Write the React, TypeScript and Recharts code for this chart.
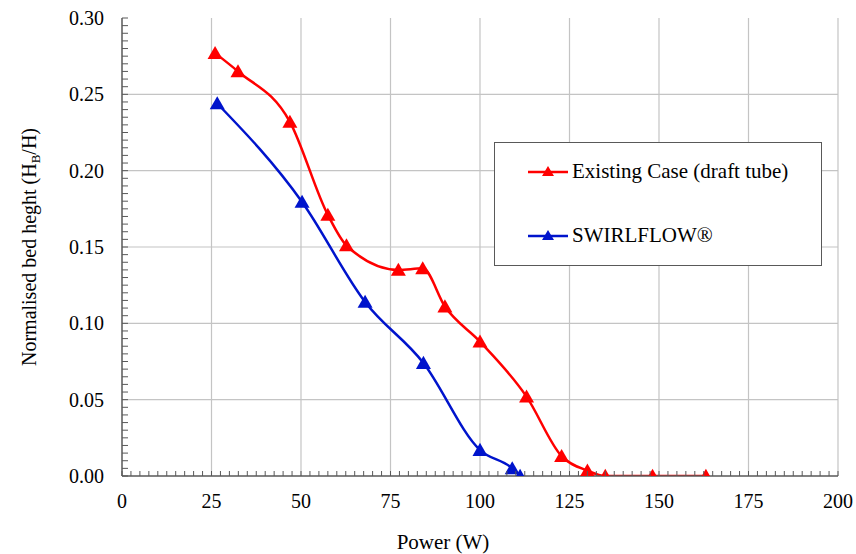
import React from 'react';
import { LineChart, Line, XAxis, YAxis, ReferenceLine, Legend } from 'recharts';

document.body.style.margin = '0';

// Existing Case (draft tube)
const existingPower = [26.0, 32.4, 46.9, 57.5, 62.7, 77.2, 84.0, 90.2, 100.0, 113.0, 122.8, 130.0, 135.0, 148.2, 163.1];
const existingHeight = [0.277, 0.265, 0.232, 0.171, 0.151, 0.135, 0.136, 0.111, 0.088, 0.052, 0.013, 0.0035, 0.0, 0.0, 0.0];

// SWIRLFLOW
const swirlPower = [26.6, 50.3, 67.9, 84.2, 100.0, 109.0, 111.2];
const swirlHeight = [0.244, 0.1795, 0.114, 0.074, 0.017, 0.005, 0.0];

const xMajorTicks = [0, 25, 50, 75, 100, 125, 150, 175, 200];
const yMajorTicks = [0, 0.05, 0.1, 0.15, 0.2, 0.25, 0.3];

const X_MINOR_PER_MAJOR = 10;
const Y_MINOR_PER_MAJOR = 10;

const buildMinor = (major: number[], per: number) => {
  const out: number[] = [];
  for (let i = 0; i < major.length - 1; i++) {
    const step = (major[i + 1] - major[i]) / per;
    for (let j = 0; j < per; j++) out.push(+(major[i] + j * step).toFixed(6));
  }
  out.push(major[major.length - 1]);
  return out;
};

const xTicks = buildMinor(xMajorTicks, X_MINOR_PER_MAJOR);
const yTicks = buildMinor(yMajorTicks, Y_MINOR_PER_MAJOR);

const existingData = existingPower.map((p, i) => ({ power: p, height: existingHeight[i] }));
const swirlData = swirlPower.map((p, i) => ({ power: p, height: swirlHeight[i] }));

const RED = '#ff0000';
const BLUE = '#0014cc';
const AXIS = '#595959';
const GRID = '#c4c4c4';
const FONT = "'Liberation Serif', Tinos, 'Times New Roman', Times, 'DejaVu Serif', serif";

const isMajor = (v: number, list: number[]) => list.some((m) => Math.abs(m - v) < 1e-6);

const XTick: React.FC<any> = ({ x, y, payload }) => {
  const major = isMajor(payload.value, xMajorTicks);
  return (
    <g>
      <line x1={x} y1={y} x2={x} y2={y - 5} stroke={AXIS} strokeWidth={1} />
      {major && (
        <text x={x} y={y + 32} textAnchor="middle" style={{ fontFamily: FONT, fontSize: 20 }} fill="#000">
          {payload.value}
        </text>
      )}
    </g>
  );
};

const YTick: React.FC<any> = ({ x, y, payload }) => {
  const major = isMajor(payload.value, yMajorTicks);
  return (
    <g>
      <line x1={x} y1={y} x2={x + 6} y2={y} stroke={AXIS} strokeWidth={1} />
      {major && (
        <text x={x - 18} y={y + 7} textAnchor="end" style={{ fontFamily: FONT, fontSize: 20 }} fill="#000">
          {payload.value.toFixed(2)}
        </text>
      )}
    </g>
  );
};

const Triangle = (color: string, size = 15) => (props: any) => {
  const { cx, cy, index } = props;
  if (cx == null || cy == null) return <g key={index} />;
  const h = size * 0.87;
  return (
    <path
      key={index}
      d={`M${cx},${cy - h * 0.55} L${cx + size / 2},${cy + h * 0.45} L${cx - size / 2},${cy + h * 0.45} Z`}
      fill={color}
      stroke="none"
    />
  );
};

const LegendBox: React.FC = () => {
  const items = [
    { label: 'Existing Case (draft tube)', color: RED },
    { label: 'SWIRLFLOW®', color: BLUE },
  ];
  return (
    <div
      style={{
        width: 328,
        height: 124,
        border: `1.5px solid ${AXIS}`,
        background: '#fff',
        boxSizing: 'border-box',
        fontFamily: FONT,
        fontSize: 21,
        color: '#000',
        position: 'relative',
      }}
    >
      {items.map((it, i) => (
        <div
          key={it.label}
          style={{ position: 'absolute', left: 33, top: 16 + i * 64, display: 'flex', alignItems: 'center', whiteSpace: 'nowrap' }}
        >
          <svg width={42} height={14} style={{ marginRight: 2 }}>
            <line x1={0} y1={7} x2={40} y2={7} stroke={it.color} strokeWidth={2.5} />
            <path d="M20,1 L26,11 L14,11 Z" fill={it.color} />
          </svg>
          <span>{it.label}</span>
        </div>
      ))}
    </div>
  );
};

const xTitle = () => (
  <text x={443} y={549} textAnchor="middle" style={{ fontFamily: FONT, fontSize: 21 }} fill="#000">
    Power (W)
  </text>
);

const yTitle = () => (
  <text
    x={36}
    y={247}
    transform="rotate(-90, 36, 247)"
    textAnchor="middle"
    style={{ fontFamily: FONT, fontSize: 20 }}
    fill="#000"
  >
    Normalised bed heght (H
    <tspan style={{ fontSize: 13 }} dy={4}>B</tspan>
    <tspan dy={-4}>/H)</tspan>
  </text>
);

const App: React.FC = () => {
  return (
    <div style={{ fontFamily: FONT }}>
      <LineChart width={856} height={554} margin={{ top: 18, right: 18, bottom: 0, left: 0 }}>
        {yMajorTicks.slice(1, -1).map((v) => (
          <ReferenceLine key={`h${v}`} y={v} stroke={GRID} strokeWidth={1.2} />
        ))}
        {xMajorTicks.slice(1).map((v) => (
          <ReferenceLine key={`v${v}`} x={v} stroke={GRID} strokeWidth={1.2} />
        ))}
        <XAxis
          type="number"
          dataKey="power"
          domain={[0, 200]}
          ticks={xTicks}
          interval={0}
          height={78}
          tickSize={0}
          tickMargin={0}
          tickLine={false}
          axisLine={{ stroke: AXIS, strokeWidth: 1.5 }}
          tick={<XTick />}
          allowDataOverflow
          label={xTitle}
        />
        <YAxis
          type="number"
          dataKey="height"
          domain={[0, 0.3]}
          ticks={yTicks}
          interval={0}
          width={122}
          tickSize={0}
          tickMargin={0}
          tickLine={false}
          axisLine={{ stroke: AXIS, strokeWidth: 1.5 }}
          tick={<YTick />}
          allowDataOverflow
          label={yTitle}
        />
        <Legend
          layout="vertical"
          align="center"
          verticalAlign="middle"
          wrapperStyle={{ left: 494, top: 142, width: 328, height: 124 }}
          content={<LegendBox />}
        />
        <Line
          data={existingData}
          type="monotone"
          dataKey="height"
          name="Existing Case (draft tube)"
          stroke={RED}
          strokeWidth={2.5}
          dot={Triangle(RED)}
          activeDot={false}
          isAnimationActive={false}
        />
        <Line
          data={swirlData}
          type="monotone"
          dataKey="height"
          name="SWIRLFLOW®"
          stroke={BLUE}
          strokeWidth={2.5}
          dot={Triangle(BLUE)}
          activeDot={false}
          isAnimationActive={false}
        />
      </LineChart>
    </div>
  );
};

export default App;
